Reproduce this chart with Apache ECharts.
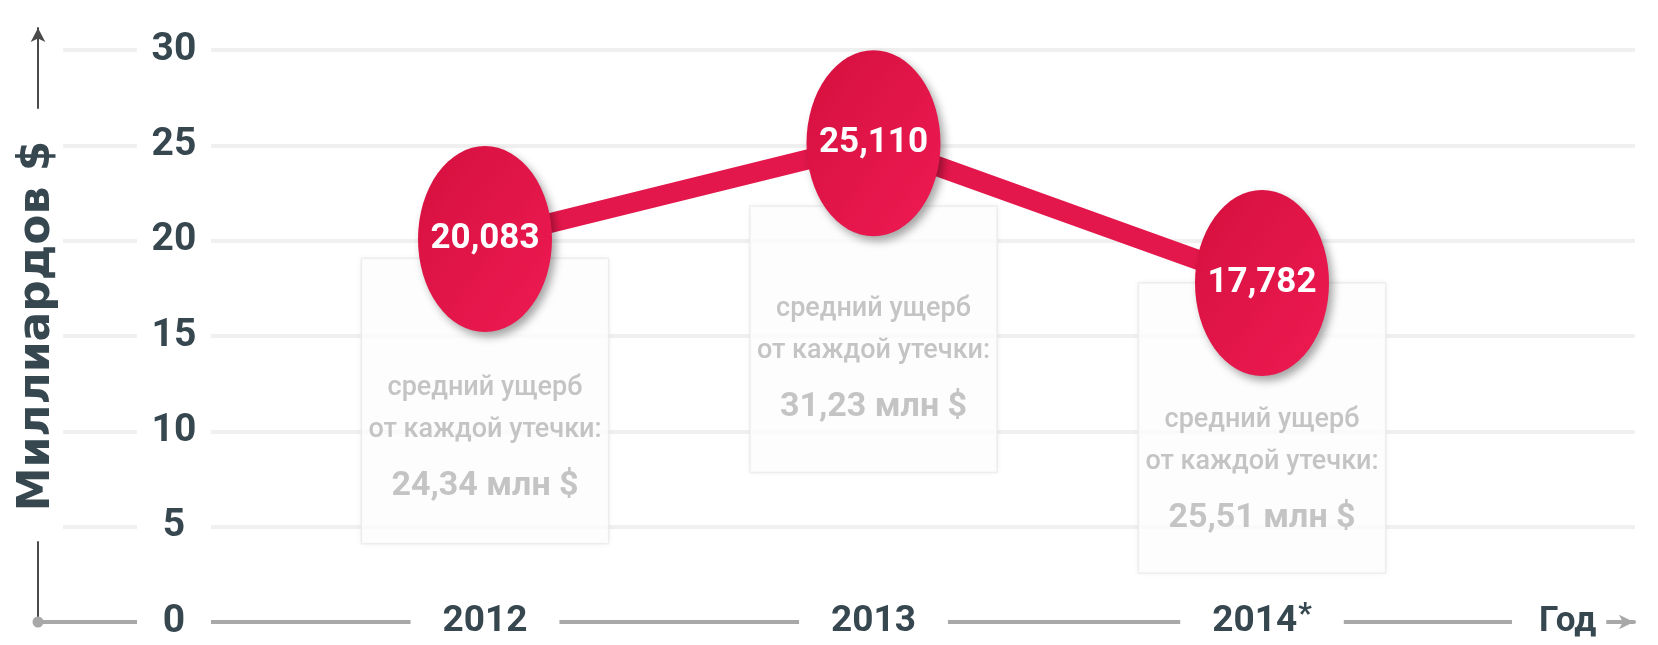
<!DOCTYPE html>
<html>
<head>
<meta charset="utf-8">
<script src="https://cdn.jsdelivr.net/npm/echarts@6/dist/echarts.min.js"></script>
<style>
  html, body { margin: 0; padding: 0; background: #fff; }
  #chart { width: 1658px; height: 645px; }
</style>
</head>
<body>
<div id="chart"></div>
<script>
// ---- data ----
const years = ['2012', '2013', '2014*'];
const totalLossBn = [20.083, 25.11, 17.782];      // Миллиардов $
const avgLossPerBreachMln = [24.34, 31.23, 25.51]; // средний ущерб от каждой утечки, млн $
const yMin = 0, yMax = 30, yStep = 5;
const yTitle = 'Миллиардов $';
const xTitle = 'Год';
const noteLine1 = 'средний ущерб';
const noteLine2 = 'от каждой утечки:';
const noteUnit = 'млн $';

// ---- styles ----
const NARROW = "Roboto, 'DejaVu Sans Condensed', sans-serif";
const DARK = '#37474f';
const RED = '#e3174b';
const NOTE = '#b5b5b5';
const fmt3 = v => v.toFixed(3).replace('.', ',');
const fmt2 = v => v.toFixed(2).replace('.', ',');

// per-annotation box placement (styling only)
const boxOffsetY = [162, 196, 145];
const boxPad = [[108, 0, 22, 0], [82, 0, 29, 0], [116, 0, 19, 0]];

const chart = echarts.init(document.getElementById('chart'), null, { renderer: 'canvas' });

const frameGrid = { left: 38, right: 24, top: 28, bottom: 23 };

const option = {
  backgroundColor: '#fff',
  animation: false,
  grid: [
    Object.assign({}, frameGrid),
    { left: 63, right: 23, top: 50, bottom: 23 },
    { left: 485, right: 396, top: 50, bottom: 23 },
    Object.assign({}, frameGrid)
  ],
  xAxis: [
    {
      gridIndex: 0, type: 'value', min: 0, max: 1, z: 1,
      axisLine: { show: true, symbol: ['circle', 'arrow'], symbolSize: [11, 15],
        lineStyle: { color: '#a8a8a8', width: 4 } },
      axisTick: { show: false }, axisLabel: { show: false }, splitLine: { show: false }
    },
    { gridIndex: 1, type: 'value', min: 0, max: 1, show: false },
    {
      gridIndex: 2, type: 'category', data: years, boundaryGap: false, z: 5,
      axisLine: { show: false }, axisTick: { show: false }, splitLine: { show: false },
      axisLabel: { interval: 0, margin: 0, verticalAlign: 'middle', fontSize: 37, fontWeight: 'bold',
        color: DARK, fontFamily: NARROW, backgroundColor: '#fff', padding: [0, 32],
        formatter: v => v.indexOf('*') >= 0 ? v.replace('*', '') + '{s|*}' : v,
        rich: { s: { fontSize: 30, fontWeight: 'bold', color: DARK, fontFamily: NARROW, padding: [0, 0, 14, 1] } } }
    },
    {
      gridIndex: 3, type: 'value', min: 0, max: 1, z: 6,
      axisLine: { show: false }, axisTick: { show: false }, axisLabel: { show: false }, splitLine: { show: false },
      name: xTitle, nameLocation: 'end', nameGap: -122,
      nameTextStyle: { fontSize: 35, fontWeight: 'bold', color: DARK, fontFamily: NARROW,
        backgroundColor: '#fff', padding: [0, 10, 0, 27], align: 'left', verticalAlign: 'middle' }
    }
  ],
  yAxis: [
    {
      gridIndex: 0, type: 'value', min: 0, max: 1, z: 1,
      axisLine: { show: true, symbol: ['none', 'arrow'], symbolSize: [11, 14],
        lineStyle: { color: '#4a4a4a', width: 2 } },
      axisTick: { show: false }, axisLabel: { show: false }, splitLine: { show: false }
    },
    {
      gridIndex: 1, type: 'value', min: yMin, max: yMax, interval: yStep, z: 0,
      axisLine: { show: false }, axisTick: { show: false }, axisLabel: { show: false },
      splitLine: { show: true, showMinLine: false, lineStyle: { color: '#f0f0f0', width: 4 } }
    },
    {
      gridIndex: 2, type: 'value', min: yMin, max: yMax, interval: yStep, z: 5,
      axisLine: { show: false }, axisTick: { show: false }, splitLine: { show: false },
      axisLabel: { margin: 311, align: 'center', verticalAlign: 'middle', fontSize: 39, fontWeight: 'bold',
        color: DARK, fontFamily: NARROW, backgroundColor: '#fff', width: 74 }
    },
    {
      gridIndex: 3, type: 'value', min: 0, max: 1, z: 6,
      axisLine: { show: false }, axisTick: { show: false }, axisLabel: { show: false }, splitLine: { show: false },
      name: yTitle, nameLocation: 'middle', nameGap: 0, nameRotate: 90,
      nameTextStyle: { fontSize: 44, fontWeight: 'bold', color: DARK, fontFamily: "'DejaVu Sans', sans-serif",
        backgroundColor: '#fff', padding: [0, 32, 0, 30], align: 'center', verticalAlign: 'middle' }
    }
  ],
  series: [
    {
      type: 'scatter', name: 'avg', xAxisIndex: 2, yAxisIndex: 2, z: 1, silent: true,
      symbolSize: 1, itemStyle: { color: 'transparent' },
      data: totalLossBn.map((v, i) => ({
        value: v,
        label: { offset: [0, boxOffsetY[i]], padding: boxPad[i] }
      })),
      label: {
        show: true, position: 'inside', width: 246, align: 'center', verticalAlign: 'middle',
        backgroundColor: '#fff', borderColor: '#ededed', borderWidth: 1.5,
        shadowColor: 'rgba(0,0,0,0.05)', shadowBlur: 6,
        formatter: p => '{a|' + noteLine1 + '}\n{a|' + noteLine2 + '}\n{b|' + fmt2(avgLossPerBreachMln[p.dataIndex]) + ' ' + noteUnit + '}',
        rich: {
          a: { fontSize: 27, fontWeight: 500, color: NOTE, fontFamily: NARROW, lineHeight: 42, align: 'center' },
          b: { fontSize: 34, fontWeight: 'bold', color: NOTE, fontFamily: NARROW, lineHeight: 70, align: 'center' }
        }
      },
      emphasis: { disabled: true }
    },
    {
      type: 'line', name: 'total', xAxisIndex: 2, yAxisIndex: 2, z: 3, silent: true,
      data: totalLossBn,
      symbol: 'circle', symbolSize: [134, 186],
      lineStyle: { color: RED, width: 20 },
      itemStyle: {
        color: new echarts.graphic.LinearGradient(0, 0, 1, 1, [
          { offset: 0, color: '#d5103f' }, { offset: 1, color: '#ee1a52' }
        ]),
        shadowColor: 'rgba(0,0,0,0.35)', shadowBlur: 8, shadowOffsetX: 4, shadowOffsetY: 5
      },
      label: { show: true, position: 'inside', formatter: p => fmt3(p.value),
        fontSize: 35, fontWeight: 'bold', color: '#fff', fontFamily: NARROW },
      emphasis: { disabled: true }
    }
  ]
};
chart.setOption(option);
</script>
</body>
</html>
